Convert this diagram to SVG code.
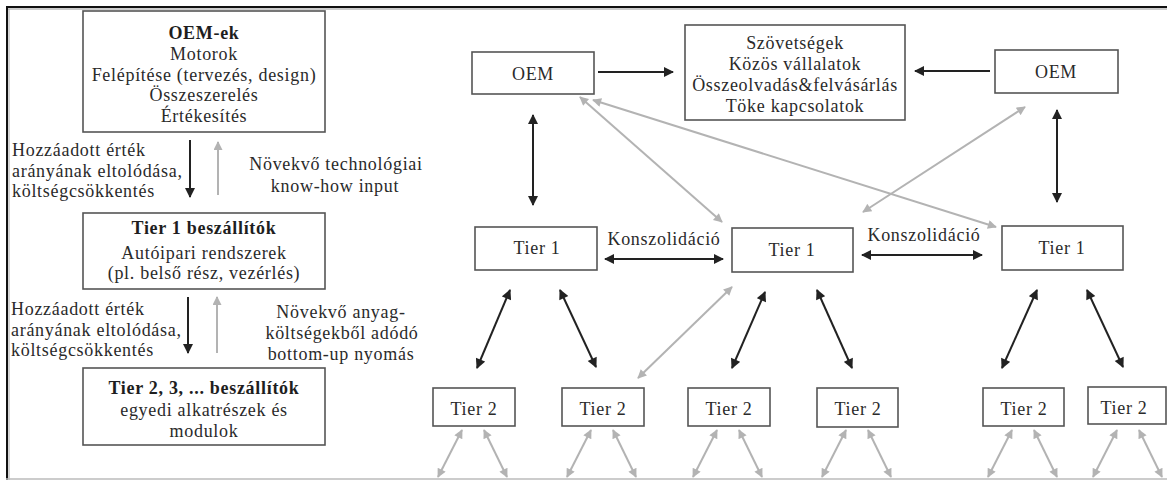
<svg xmlns="http://www.w3.org/2000/svg" width="1167" height="480" viewBox="0 0 1167 480">
<style>
text{font-family:"Liberation Serif","Times New Roman",serif;font-size:18px;fill:#2a2a2a;letter-spacing:0.7px}
.c{text-anchor:middle}
.b{font-weight:bold;fill:#1e1e1e}
.box{fill:#fff;stroke:#555;stroke-width:1.6}
.k{stroke:#222;stroke-width:2;fill:none}
.g{stroke:#b3b3b3;stroke-width:2;fill:none}
</style>
<defs>
<marker id="ak" viewBox="0 0 10 10" refX="9" refY="5" markerWidth="12" markerHeight="10" markerUnits="userSpaceOnUse" orient="auto-start-reverse"><path d="M0,0 L10,5 L0,10 z" fill="#222"/></marker>
<marker id="ag" viewBox="0 0 10 10" refX="9" refY="5" markerWidth="11" markerHeight="9" markerUnits="userSpaceOnUse" orient="auto-start-reverse"><path d="M0,0 L10,5 L0,10 z" fill="#b3b3b3"/></marker>
</defs>
<rect width="1167" height="480" fill="#fff"/>
<g id="frame">
<line x1="6" y1="7" x2="1167" y2="7" stroke="#111" stroke-width="2"/>
<line x1="6" y1="9" x2="1167" y2="9" stroke="#999" stroke-width="1"/>
<line x1="7" y1="6" x2="7" y2="480" stroke="#111" stroke-width="2"/>
<line x1="9" y1="9" x2="9" y2="480" stroke="#aaa" stroke-width="1"/>
<line x1="6" y1="479" x2="1167" y2="479" stroke="#bbb" stroke-width="1.5"/>
</g>
<g id="connectors">
<line class="k" x1="190" y1="140" x2="190" y2="197" marker-end="url(#ak)"/>
<line class="g" x1="218" y1="195" x2="218" y2="142" marker-end="url(#ag)"/>
<line class="k" x1="188" y1="297" x2="188" y2="353" marker-end="url(#ak)"/>
<line class="g" x1="217" y1="353" x2="217" y2="297" marker-end="url(#ag)"/>
<line class="k" x1="598" y1="72" x2="673" y2="72" marker-end="url(#ak)"/>
<line class="k" x1="990" y1="71" x2="915" y2="71" marker-end="url(#ak)"/>
<line class="k" x1="533" y1="115" x2="533" y2="205" marker-start="url(#ak)" marker-end="url(#ak)"/>
<line class="k" x1="1057" y1="110" x2="1057" y2="202" marker-start="url(#ak)" marker-end="url(#ak)"/>
<line class="k" x1="605" y1="259" x2="723" y2="259" marker-start="url(#ak)" marker-end="url(#ak)"/>
<line class="k" x1="862" y1="255" x2="982" y2="255" marker-start="url(#ak)" marker-end="url(#ak)"/>
<line class="k" x1="510" y1="290" x2="477" y2="368" marker-start="url(#ak)" marker-end="url(#ak)"/>
<line class="k" x1="560" y1="290" x2="596" y2="367" marker-start="url(#ak)" marker-end="url(#ak)"/>
<line class="k" x1="765" y1="292" x2="732" y2="368" marker-start="url(#ak)" marker-end="url(#ak)"/>
<line class="k" x1="817" y1="290" x2="852" y2="368" marker-start="url(#ak)" marker-end="url(#ak)"/>
<line class="k" x1="1037" y1="290" x2="1002" y2="368" marker-start="url(#ak)" marker-end="url(#ak)"/>
<line class="k" x1="1087" y1="290" x2="1123" y2="367" marker-start="url(#ak)" marker-end="url(#ak)"/>
<line class="g" x1="580" y1="97" x2="722" y2="222" marker-start="url(#ag)" marker-end="url(#ag)"/>
<line class="g" x1="593" y1="100" x2="996" y2="227" marker-start="url(#ag)" marker-end="url(#ag)"/>
<line class="g" x1="1025" y1="107" x2="863" y2="212" marker-start="url(#ag)" marker-end="url(#ag)"/>
<line class="g" x1="732" y1="287" x2="638" y2="378" marker-start="url(#ag)" marker-end="url(#ag)"/>
<line class="g" x1="462" y1="430" x2="438" y2="477" marker-start="url(#ag)" marker-end="url(#ag)"/>
<line class="g" x1="484" y1="430" x2="507" y2="477" marker-start="url(#ag)" marker-end="url(#ag)"/>
<line class="g" x1="591" y1="430" x2="567" y2="477" marker-start="url(#ag)" marker-end="url(#ag)"/>
<line class="g" x1="613" y1="430" x2="636" y2="477" marker-start="url(#ag)" marker-end="url(#ag)"/>
<line class="g" x1="717" y1="430" x2="693" y2="477" marker-start="url(#ag)" marker-end="url(#ag)"/>
<line class="g" x1="739" y1="430" x2="762" y2="477" marker-start="url(#ag)" marker-end="url(#ag)"/>
<line class="g" x1="846" y1="430" x2="822" y2="477" marker-start="url(#ag)" marker-end="url(#ag)"/>
<line class="g" x1="868" y1="430" x2="891" y2="477" marker-start="url(#ag)" marker-end="url(#ag)"/>
<line class="g" x1="1012" y1="430" x2="988" y2="477" marker-start="url(#ag)" marker-end="url(#ag)"/>
<line class="g" x1="1034" y1="430" x2="1057" y2="477" marker-start="url(#ag)" marker-end="url(#ag)"/>
<line class="g" x1="1117" y1="430" x2="1093" y2="477" marker-start="url(#ag)" marker-end="url(#ag)"/>
<line class="g" x1="1139" y1="430" x2="1162" y2="477" marker-start="url(#ag)" marker-end="url(#ag)"/>
</g>
<g id="oem-ek">
<rect class="box" x="83" y="11" width="242" height="121"/>
<text class="c b" x="204" y="39">OEM-ek</text>
<text class="c" x="204" y="60">Motorok</text>
<text class="c" x="204" y="81">Felépítése (tervezés, design)</text>
<text class="c" x="204" y="101">Összeszerelés</text>
<text class="c" x="204" y="122">Értékesítés</text>
</g>
<g id="label-left-1">
<text x="12" y="156">Hozzáadott érték</text>
<text x="12" y="177">arányának eltolódása,</text>
<text x="12" y="197">költségcsökkentés</text>
</g>
<g id="label-right-1">
<text class="c" x="336" y="170">Növekvő technológiai</text>
<text class="c" x="335" y="192">know-how input</text>
</g>
<g id="tier1-beszallitok">
<rect class="box" x="83" y="213" width="242" height="76"/>
<text class="c b" x="204" y="234">Tier 1 beszállítók</text>
<text class="c" x="204" y="259">Autóipari rendszerek</text>
<text class="c" x="204" y="279">(pl. belső rész, vezérlés)</text>
</g>
<g id="label-left-2">
<text x="11" y="315">Hozzáadott érték</text>
<text x="11" y="336">arányának eltolódása,</text>
<text x="11" y="356">költségcsökkentés</text>
</g>
<g id="label-right-2">
<text class="c" x="341" y="318">Növekvő anyag-</text>
<text class="c" x="342" y="339">költségekből adódó</text>
<text class="c" x="341" y="360">bottom-up nyomás</text>
</g>
<g id="tier23-beszallitok">
<rect class="box" x="83" y="368" width="242" height="77"/>
<text class="c b" x="204" y="394">Tier 2, 3, ... beszállítók</text>
<text class="c" x="204" y="416">egyedi alkatrészek és</text>
<text class="c" x="204" y="437">modulok</text>
</g>
<g id="oem-left">
<rect class="box" x="472" y="52" width="122" height="42"/>
<text class="c" x="533" y="80">OEM</text>
</g>
<g id="alliances">
<rect class="box" x="685" y="25" width="220" height="95"/>
<text class="c" x="795" y="49">Szövetségek</text>
<text class="c" x="795" y="70">Közös vállalatok</text>
<text class="c" x="795" y="91">Összeolvadás&amp;felvásárlás</text>
<text class="c" x="795" y="112">Töke kapcsolatok</text>
</g>
<g id="oem-right">
<rect class="box" x="995" y="50" width="123" height="43"/>
<text class="c" x="1056" y="78">OEM</text>
</g>
<g id="tier1-a">
<rect class="box" x="475" y="227" width="122" height="43"/>
<text class="c" x="537" y="254">Tier 1</text>
</g>
<g id="tier1-b">
<rect class="box" x="732" y="228" width="121" height="44"/>
<text class="c" x="792" y="256">Tier 1</text>
</g>
<g id="tier1-c">
<rect class="box" x="1002" y="226" width="121" height="44"/>
<text class="c" x="1062" y="254">Tier 1</text>
</g>
<g id="konszolidacio-1"><text class="c" x="664" y="245">Konszolidáció</text></g>
<g id="konszolidacio-2"><text class="c" x="924" y="241">Konszolidáció</text></g>
<g id="tier2-1"><rect class="box" x="433" y="388" width="82" height="38"/><text class="c" x="474" y="415">Tier 2</text></g>
<g id="tier2-2"><rect class="box" x="562" y="388" width="82" height="38"/><text class="c" x="603" y="415">Tier 2</text></g>
<g id="tier2-3"><rect class="box" x="688" y="388" width="82" height="38"/><text class="c" x="729" y="415">Tier 2</text></g>
<g id="tier2-4"><rect class="box" x="817" y="388" width="81" height="39"/><text class="c" x="858" y="415">Tier 2</text></g>
<g id="tier2-5"><rect class="box" x="983" y="388" width="81" height="38"/><text class="c" x="1024" y="415">Tier 2</text></g>
<g id="tier2-6"><rect class="box" x="1088" y="387" width="78" height="37"/><text class="c" x="1124" y="414">Tier 2</text></g>
</svg>
